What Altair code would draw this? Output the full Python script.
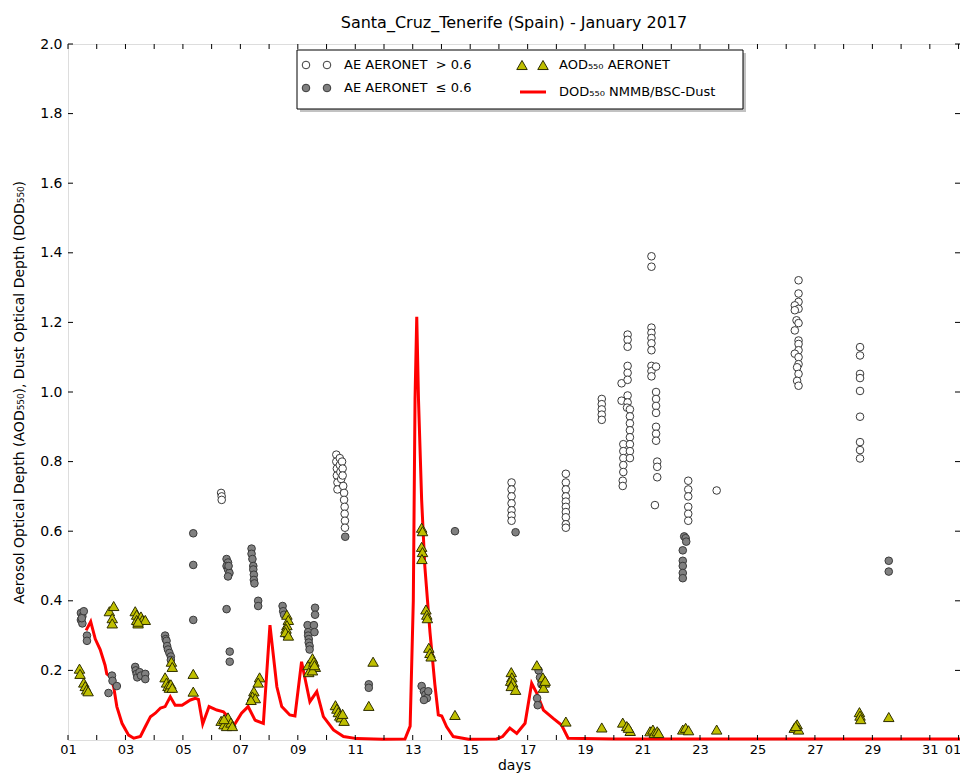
import altair as alt
import pandas as pd

# ---------------- data ----------------
open_day = [6.33, 6.35, 6.35,
            10.34, 10.34, 10.36, 10.36, 10.38, 10.38, 10.46, 10.46, 10.48, 10.51,
            10.54, 10.56, 10.56, 10.58, 10.61, 10.61, 10.63, 10.63, 10.64, 10.64,
            16.44, 16.44, 16.44, 16.44, 16.44, 16.44, 16.44,
            18.33, 18.33, 18.33, 18.33, 18.33, 18.33, 18.33, 18.33, 18.33, 18.33,
            19.58, 19.58, 19.58, 19.58, 19.58,
            20.27, 20.27, 20.33, 20.33, 20.33, 20.33, 20.33, 20.31, 20.31,
            20.48, 20.48, 20.48, 20.48, 20.48, 20.48, 20.48, 20.48, 20.46,
            20.56, 20.56, 20.56, 20.56, 20.56, 20.56, 20.56, 20.56,
            21.31, 21.31, 21.31, 21.31, 21.31, 21.31, 21.31, 21.31, 21.31, 21.31,
            21.47, 21.47, 21.47, 21.47, 21.47, 21.47, 21.47, 21.47,
            21.51, 21.51, 21.51, 21.43,
            22.59, 22.59, 22.59, 22.59, 22.59, 22.59,
            23.58,
            26.43, 26.43, 26.43, 26.30, 26.43, 26.30, 26.36, 26.43, 26.30, 26.43,
            26.43, 26.43, 26.30, 26.43, 26.43, 26.38, 26.43, 26.38, 26.43,
            28.57, 28.57, 28.57, 28.57, 28.57, 28.57, 28.57, 28.57, 28.57]
open_val = [0.71, 0.70, 0.69,
            0.82, 0.80, 0.78, 0.76, 0.74, 0.72, 0.81, 0.79, 0.77, 0.75,
            0.80, 0.78, 0.76, 0.73, 0.71, 0.69, 0.67, 0.65, 0.63, 0.61,
            0.74, 0.72, 0.70, 0.68, 0.66, 0.645, 0.63,
            0.765, 0.74, 0.72, 0.70, 0.685, 0.67, 0.655, 0.64, 0.62, 0.61,
            0.98, 0.965, 0.95, 0.935, 0.92,
            1.025, 0.975, 0.85, 0.83, 0.81, 0.79, 0.77, 0.745, 0.73,
            1.165, 1.15, 1.13, 1.075, 1.055, 1.035, 0.99, 0.97, 0.955,
            0.95, 0.93, 0.91, 0.89, 0.87, 0.85, 0.83, 0.81,
            1.39, 1.36, 1.185, 1.17, 1.155, 1.14, 1.12, 1.075, 1.06, 1.045,
            1.073, 1.00, 0.98, 0.96, 0.94, 0.90, 0.88, 0.86,
            0.80, 0.785, 0.755, 0.675,
            0.745, 0.72, 0.70, 0.67, 0.65, 0.63,
            0.717,
            1.321, 1.283, 1.259, 1.249, 1.239, 1.235, 1.206, 1.198, 1.177, 1.148,
            1.138, 1.12, 1.11, 1.10, 1.08, 1.071, 1.052, 1.032, 1.018,
            1.129, 1.105, 1.052, 1.04, 1.003, 0.929, 0.856, 0.833, 0.809]

gray_day = [1.45, 1.50, 1.45, 1.50, 1.55, 1.48, 1.66, 1.66,
            2.41, 2.53, 2.55, 2.70,
            3.34, 3.36, 3.39, 3.41, 3.49, 3.54, 3.69, 3.69,
            4.38, 4.40, 4.43, 4.45, 4.48, 4.53, 4.58, 4.58,
            5.36, 5.36, 5.36,
            6.52, 6.57, 6.52, 6.57, 6.62, 6.57, 6.59, 6.52, 6.63, 6.63,
            7.39, 7.39, 7.42, 7.45, 7.45, 7.47, 7.47, 7.49, 7.62, 7.62,
            8.47, 8.49, 8.52, 8.62,
            9.34, 9.36, 9.36, 9.38, 9.38, 9.41, 9.41, 9.60, 9.60, 9.56, 9.58,
            10.65,
            11.47, 11.47,
            13.31, 13.39, 13.44, 13.49, 13.54, 13.39,
            14.47,
            16.58,
            17.38, 17.43, 17.48, 17.33, 17.35,
            22.45, 22.50, 22.52, 22.40, 22.40, 22.40, 22.40, 22.40,
            29.57, 29.57]
gray_val = [0.365, 0.355, 0.345, 0.335, 0.37, 0.35, 0.30, 0.285,
            0.135, 0.185, 0.17, 0.155,
            0.21, 0.20, 0.19, 0.18, 0.195, 0.185, 0.19, 0.175,
            0.30, 0.29, 0.285, 0.27, 0.26, 0.25, 0.24, 0.23,
            0.594, 0.503, 0.345,
            0.52, 0.51, 0.50, 0.49, 0.48, 0.47, 0.50, 0.376, 0.254, 0.225,
            0.55, 0.535, 0.52, 0.50, 0.49, 0.475, 0.46, 0.45, 0.40, 0.385,
            0.385, 0.37, 0.36, 0.30,
            0.33, 0.31, 0.30, 0.29, 0.28, 0.27, 0.26, 0.38, 0.36, 0.33, 0.31,
            0.584,
            0.16, 0.15,
            0.155, 0.14, 0.13, 0.12, 0.14, 0.115,
            0.60,
            0.597,
            0.20, 0.18, 0.16, 0.12, 0.10,
            0.585, 0.58, 0.57, 0.545, 0.515, 0.50, 0.48, 0.465,
            0.515, 0.484]

aod_day = [1.40, 1.42, 1.55, 1.60, 1.65, 1.70,
           2.44, 2.59, 2.54, 2.54,
           3.34, 3.39, 3.39, 3.44, 3.54, 3.59, 3.69, 3.44,
           4.60, 4.63, 4.38, 4.43, 4.48, 4.53, 4.58, 4.63,
           5.36, 5.36,
           6.33, 6.43, 6.52, 6.57, 6.67, 6.72, 6.43,
           7.67, 7.62, 7.47, 7.42, 7.52, 7.37,
           8.62, 8.67, 8.62, 8.59, 8.57, 8.67,
           9.36, 9.38, 9.51, 9.56, 9.61, 9.51, 9.58,
           10.31, 10.36, 10.41, 10.46, 10.51, 10.61, 10.56,
           11.62, 11.47,
           13.31, 13.34, 13.31, 13.34, 13.32, 13.46, 13.49, 13.51, 13.56, 13.60, 13.64,
           14.47,
           16.43, 16.45, 16.41, 16.48, 16.43, 16.58,
           17.32, 17.53, 17.58, 17.55, 17.61,
           18.33,
           19.58,
           20.31, 20.45, 20.57, 20.51,
           21.26, 21.36, 21.41, 21.51, 21.56,
           22.40, 22.50, 22.60,
           23.58,
           26.28, 26.38, 26.43, 26.33,
           28.55, 28.57, 28.59,
           29.57]
aod_val = [0.205, 0.19, 0.165, 0.155, 0.145, 0.14,
           0.37, 0.385, 0.35, 0.335,
           0.37, 0.36, 0.345, 0.335, 0.355, 0.345, 0.345, 0.34,
           0.225, 0.21, 0.18, 0.165, 0.155, 0.15, 0.16, 0.15,
           0.19, 0.139,
           0.055, 0.045, 0.04, 0.065, 0.05, 0.04, 0.06,
           0.18, 0.165, 0.14, 0.125, 0.12, 0.115,
           0.36, 0.345, 0.33, 0.32, 0.31, 0.30,
           0.215, 0.195, 0.235, 0.225, 0.21, 0.20, 0.215,
           0.10, 0.09, 0.08, 0.07, 0.065, 0.055, 0.075,
           0.225, 0.098,
           0.61, 0.60, 0.555, 0.54, 0.52, 0.375, 0.36, 0.35, 0.265, 0.25, 0.24,
           0.072,
           0.195, 0.18, 0.17, 0.165, 0.155, 0.144,
           0.215, 0.18, 0.165, 0.15, 0.17,
           0.053,
           0.036,
           0.05, 0.04, 0.026, 0.035,
           0.025, 0.03, 0.02, 0.025, 0.02,
           0.03, 0.035, 0.028,
           0.03,
           0.035, 0.045, 0.03, 0.04,
           0.08, 0.07, 0.06,
           0.066]

dod_day = [1.63, 1.79, 1.95, 2.12, 2.29, 2.35, 2.47, 2.59, 2.70, 2.88, 3.11, 3.29,
           3.52, 3.69, 3.87, 4.04, 4.22, 4.38, 4.56, 4.73, 4.97, 5.26, 5.43, 5.54,
           5.69, 5.91, 6.18, 6.41, 6.57, 6.75, 7.04, 7.27, 7.51, 7.80, 8.03, 8.27,
           8.44, 8.72, 8.90, 9.13, 9.42, 9.66, 9.89, 10.24, 10.59, 11.05, 11.95,
           12.73, 12.91, 13.02, 13.08, 13.14, 13.20, 13.31, 13.42, 13.60, 13.77,
           13.89, 14.01, 14.18, 14.41, 14.94, 15.92, 16.13, 16.38, 16.62, 16.91,
           17.14, 17.32, 17.55, 17.89, 18.18, 18.41, 20.0, 22.0, 24.0, 26.0, 28.0,
           30.0, 32.05]
dod_val = [0.315, 0.34, 0.29, 0.26, 0.215, 0.19, 0.182, 0.153, 0.096, 0.048, 0.014, 0.005,
           0.01, 0.038, 0.067, 0.077, 0.092, 0.096, 0.124, 0.10, 0.10, 0.115, 0.12, 0.117,
           0.046, 0.096, 0.086, 0.081, 0.067, 0.038, 0.077, 0.096, 0.057, 0.048, 0.33, 0.153,
           0.096, 0.072, 0.069, 0.225, 0.11, 0.139, 0.067, 0.029, 0.01, 0.004, 0.002,
           0.003, 0.04, 0.40, 0.98, 1.216, 0.98, 0.69, 0.50, 0.31, 0.16,
           0.072, 0.069, 0.038, 0.01, 0.002, 0.003, 0.01, 0.034, 0.019, 0.048,
           0.163, 0.134, 0.086, 0.062, 0.043, 0.005, 0.003, 0.003, 0.003, 0.003, 0.003,
           0.003, 0.003]

xtick_labels_at = [1, 3, 5, 7, 9, 11, 13, 15, 17, 19, 21, 23, 25, 27, 29, 31, 32]
minor_days = list(range(1, 33))
ytick_values = [0.2, 0.4, 0.6, 0.8, 1.0, 1.2, 1.4, 1.6, 1.8, 2.0]

TITLE = "Santa_Cruz_Tenerife (Spain) - January 2017"
YTITLE = "Aerosol Optical Depth (AOD\u2085\u2085\u2080), Dust Optical Depth (DOD\u2085\u2085\u2080)"

# ---------------- chart ----------------
W, H = 892, 696
FONT = "DejaVu Sans"

xs = alt.Scale(domain=[1, 32.05], nice=False, zero=False)
ys = alt.Scale(domain=[0, 2.0], nice=False, zero=False)

x_axis = alt.Axis(values=xtick_labels_at, ticks=False, tickSize=0, domain=False, grid=False,
                  labelExpr="datum.value >= 32 ? '01' : (datum.value < 10 ? '0' + datum.value : '' + datum.value)",
                  labelFontSize=13, labelFont=FONT, labelColor="black", labelPadding=3,
                  labelOffset={"condition": {"test": "datum.value >= 32", "value": -6}, "value": 0},
                  labelFlush=False, labelOverlap=False,
                  title="days", titleFont=FONT, titleFontSize=14, titleFontWeight="normal",
                  titleColor="black", titlePadding=2)
y_axis = alt.Axis(values=ytick_values, format=".1f", ticks=False, tickSize=0, domain=False, grid=False,
                  labelFontSize=14, labelFont=FONT, labelColor="black", labelPadding=6,
                  labelFlush=False, labelOverlap=False,
                  title=YTITLE, titleFont=FONT, titleFontSize=14, titleFontWeight="normal",
                  titleColor="black", titlePadding=13)

def X(field="day"):
    return alt.X(f"{field}:Q", scale=xs, axis=x_axis)

def Y(field="val"):
    return alt.Y(f"{field}:Q", scale=ys, axis=y_axis)

df_open = pd.DataFrame({"day": open_day, "val": open_val})
df_gray = pd.DataFrame({"day": gray_day, "val": gray_val})
df_aod = pd.DataFrame({"day": aod_day, "val": aod_val})
df_dod = pd.DataFrame({"day": dod_day, "val": dod_val})
df_xt = pd.DataFrame({"day": minor_days})
df_yt = pd.DataFrame({"val": ytick_values})

line = alt.Chart(df_dod).mark_line(color="#ff0000", strokeWidth=3).encode(x=X(), y=Y())
opn = alt.Chart(df_open).mark_point(shape="circle", filled=True, fill="white", stroke="#3a3a3a",
                                    strokeWidth=1, size=58, opacity=1).encode(x=X(), y=Y())
gry = alt.Chart(df_gray).mark_point(shape="circle", filled=True, fill="#808080", stroke="#3a3a3a",
                                    strokeWidth=1, size=58, opacity=1).encode(x=X(), y=Y())
tri = alt.Chart(df_aod).mark_point(shape="triangle-up", filled=True, fill="#bfbf00", stroke="#2e2e00",
                                   strokeWidth=1, size=110, opacity=1).encode(x=X(), y=Y())

tick_style = dict(color="black", strokeWidth=1)
xt_bot = alt.Chart(df_xt).mark_rule(**tick_style).encode(x=X(), y=alt.value(H), y2=alt.value(H - 5))
xt_top = alt.Chart(df_xt).mark_rule(**tick_style).encode(x=X(), y=alt.value(0), y2=alt.value(5))
yt_left = alt.Chart(df_yt).mark_rule(**tick_style).encode(y=Y(), x=alt.value(0), x2=alt.value(5))
yt_right = alt.Chart(df_yt).mark_rule(**tick_style).encode(y=Y(), x=alt.value(W), x2=alt.value(W - 5))

# ---------------- legend (decoration) ----------------
one = alt.Data(values=[{"k": 0}])
LX0, LX1, LY0, LY1 = 229, 675, 6, 65
shadow = alt.Chart(one).mark_rect(fill="#9a9a9a", opacity=0.6).encode(
    x=alt.value(LX0 + 3), x2=alt.value(LX1 + 3), y=alt.value(LY0 + 3), y2=alt.value(LY1 + 3))
box = alt.Chart(one).mark_rect(fill="white", stroke="black", strokeWidth=1).encode(
    x=alt.value(LX0), x2=alt.value(LX1), y=alt.value(LY0), y2=alt.value(LY1))

R1, R2 = 21, 44
def leg_pt(px, py, **kw):
    return alt.Chart(one).mark_point(filled=True, opacity=1, strokeWidth=1, **kw).encode(
        x=alt.value(px), y=alt.value(py))

def leg_txt(px, py, s):
    return alt.Chart(one).mark_text(align="left", baseline="middle", font=FONT, fontSize=13,
                                    color="black").encode(x=alt.value(px), y=alt.value(py), text=alt.value(s))

legend_layers = [
    shadow, box,
    leg_pt(238, R1, shape="circle", fill="white", stroke="#3a3a3a", size=58),
    leg_pt(259, R1, shape="circle", fill="white", stroke="#3a3a3a", size=58),
    leg_pt(238, R2, shape="circle", fill="#808080", stroke="#3a3a3a", size=58),
    leg_pt(259, R2, shape="circle", fill="#808080", stroke="#3a3a3a", size=58),
    leg_pt(454, R1, shape="triangle-up", fill="#bfbf00", stroke="#2e2e00", size=110),
    leg_pt(475, R1, shape="triangle-up", fill="#bfbf00", stroke="#2e2e00", size=110),
    alt.Chart(one).mark_rule(color="#ff0000", strokeWidth=3).encode(
        x=alt.value(452), x2=alt.value(478), y=alt.value(R2 + 4)),
    leg_txt(276, R1, "AE AERONET\u00a0\u00a0> 0.6"),
    leg_txt(276, R2, "AE AERONET\u00a0\u00a0\u2264 0.6"),
    leg_txt(491, R1, "AOD\u2085\u2085\u2080 AERONET"),
    leg_txt(491, R2 + 4, "DOD\u2085\u2085\u2080 NMMB/BSC-Dust"),
]

chart = alt.layer(
    line, opn, gry, tri, xt_bot, xt_top, yt_left, yt_right, *legend_layers
).properties(
    width=W, height=H,
    title=alt.TitleParams(TITLE, font=FONT, fontSize=16, fontWeight="normal", color="black",
                          anchor="middle", offset=6),
    autosize=alt.AutoSizeParams(type="none"),
    padding={"left": 60, "top": 36, "right": 0, "bottom": 33},
).configure_view(
    stroke="black", strokeWidth=1
).configure(background="white")

chart.save("out.html", embed_options={"renderer": "svg", "actions": False})
